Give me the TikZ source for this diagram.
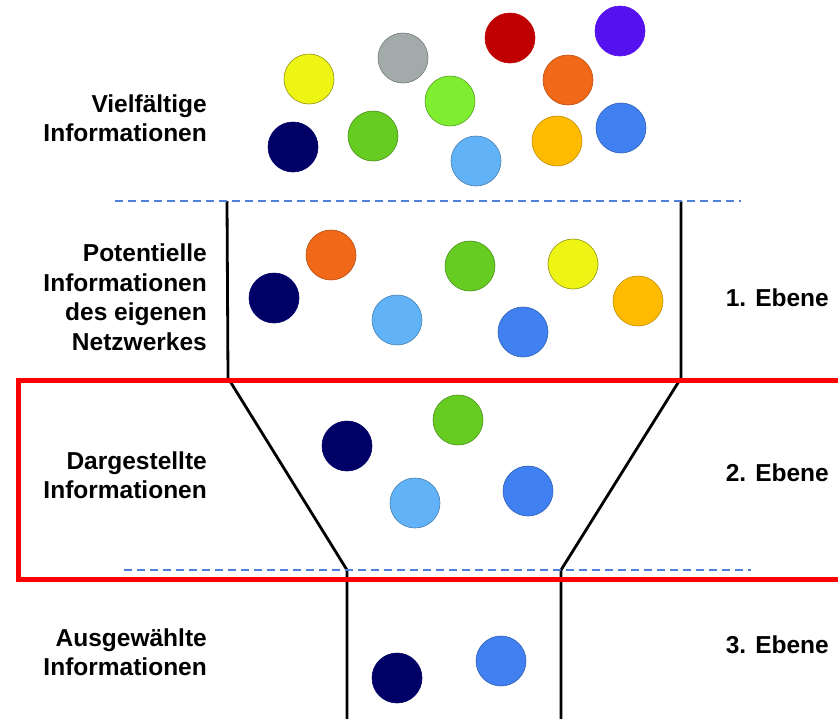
\documentclass[tikz,border=0pt]{standalone}
\usepackage{fontspec}
\setmainfont{Liberation Sans}
\definecolor{cnavy}{HTML}{000066}
\definecolor{cyellow}{HTML}{EEF514}
\definecolor{cgray}{HTML}{A2AAAA}
\definecolor{cgreen}{HTML}{66CC22}
\definecolor{clgreen}{HTML}{80EE30}
\definecolor{cred}{HTML}{C00000}
\definecolor{cpurple}{HTML}{5511EE}
\definecolor{corange}{HTML}{F06818}
\definecolor{clblue}{HTML}{62B2F8}
\definecolor{camber}{HTML}{FFBB00}
\definecolor{cblue}{HTML}{4080F0}
\definecolor{cdash}{HTML}{5080DA}
\tikzset{
  ball/.style={circle, minimum size=50pt, inner sep=0pt, line width=0.6pt},
  funnel/.style={line width=2.8pt, black},
  sep/.style={line width=1.6pt, cdash, dash pattern=on 8pt off 5pt},
  lbl/.style={font=\bfseries\fontsize{24.5}{29.5}\selectfont, align=right, anchor=east, inner sep=0pt},
  frame/.style={draw=red, line width=5pt}
}
\begin{document}
\begin{tikzpicture}[x=1pt,y=-1pt]
\useasboundingbox (0,0) rectangle (838,718);
\clip (0,0) rectangle (838,718);
% top circles
\node[ball, fill=cyellow, draw=cyellow!60!black] (t1) at (309,79) {};
\node[ball, fill=cgray, draw=cgray!70!black] (t2) at (403,58) {};
\node[ball, fill=cnavy, draw=cnavy] (t3) at (293,147) {};
\node[ball, fill=cgreen, draw=cgreen!70!black] (t4) at (373,136) {};
\node[ball, fill=clgreen, draw=clgreen!65!black] (t5) at (450,101) {};
\node[ball, fill=cred, draw=cred] (t6) at (510,38) {};
\node[ball, fill=cpurple, draw=cpurple] (t7) at (620,31) {};
\node[ball, fill=corange, draw=corange!75!black] (t8) at (568,80) {};
\node[ball, fill=clblue, draw=clblue!70!black] (t9) at (476,161) {};
\node[ball, fill=camber, draw=camber!75!black] (t10) at (557,141) {};
\node[ball, fill=cblue, draw=cblue!75!black] (t11) at (621,128) {};
% level 1 circles
\node[ball, fill=corange, draw=corange!75!black] (a1) at (331,255) {};
\node[ball, fill=cnavy, draw=cnavy] (a2) at (274,298) {};
\node[ball, fill=clblue, draw=clblue!70!black] (a3) at (397,320) {};
\node[ball, fill=cgreen, draw=cgreen!70!black] (a4) at (470,266) {};
\node[ball, fill=cyellow, draw=cyellow!60!black] (a5) at (573,264) {};
\node[ball, fill=camber, draw=camber!75!black] (a6) at (638,301) {};
\node[ball, fill=cblue, draw=cblue!75!black] (a7) at (523,332) {};
% level 2 circles
\node[ball, fill=cnavy, draw=cnavy] (b1) at (347,446) {};
\node[ball, fill=cgreen, draw=cgreen!70!black] (b2) at (458,420) {};
\node[ball, fill=clblue, draw=clblue!70!black] (b3) at (415,503) {};
\node[ball, fill=cblue, draw=cblue!75!black] (b4) at (528,491) {};
% level 3 circles
\node[ball, fill=cnavy, draw=cnavy] (d1) at (397,678) {};
\node[ball, fill=cblue, draw=cblue!75!black] (d2) at (501,661) {};
% funnel
\coordinate (l0) at (227,201);
\coordinate (l1) at (228,378);
\coordinate (l2) at (347,570);
\coordinate (l3) at (347,720);
\coordinate (r0) at (681,201);
\coordinate (r1) at (681,378);
\coordinate (r2) at (561,570);
\coordinate (r3) at (561,720);
\draw[funnel] (l0) -- (l1) -- (l2) -- (l3);
\draw[funnel] (r0) -- (r1) -- (r2) -- (r3);
% separators
\coordinate (s1a) at (115,201);
\coordinate (s1b) at (741,201);
\coordinate (s2a) at (124,570);
\coordinate (s2b) at (751,570);
\draw[sep] (s1a) -- (s1b);
\draw[sep] (s2a) -- (s2b);
% red frame
\coordinate (fa) at (18,380);
\coordinate (fb) at (850,579);
\draw[frame] (fa) rectangle (fb);
% labels
\node[lbl] (L0) at (207,118) {Vielfältige\\Informationen};
\node[lbl] (L1) at (207,297) {Potentielle\\Informationen\\des eigenen\\Netzwerkes};
\node[lbl] (L2) at (207,475) {Dargestellte\\Informationen};
\node[lbl] (L3) at (207,652) {Ausgewählte\\Informationen};
\node[lbl] (E1) at (829,298) {1. Ebene};
\node[lbl] (E2) at (829,473) {2. Ebene};
\node[lbl] (E3) at (829,645) {3. Ebene};
\end{tikzpicture}
\end{document}
